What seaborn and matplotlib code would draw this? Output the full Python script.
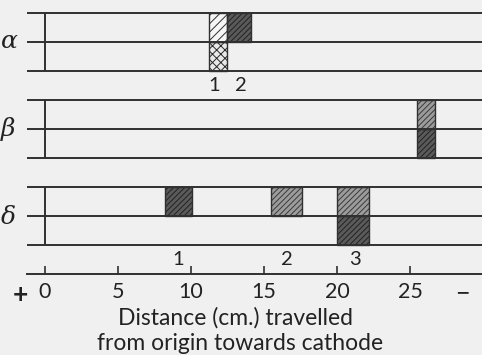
import matplotlib
matplotlib.use("Agg")
import matplotlib.pyplot as plt
import seaborn as sns

# --- data (distance in cm) ---
genes = ["α", "β", "δ"]

alpha_start = [11.2, 12.5, 11.2]
alpha_end = [12.5, 14.1, 12.5]
alpha_lane = ["upper", "upper", "lower"]
alpha_fill = ["light", "dark", "dotted"]

beta_start = [25.5, 25.5]
beta_end = [26.7, 26.7]
beta_lane = ["upper", "lower"]
beta_fill = ["medium", "dark"]

delta_start = [8.2, 15.5, 20.0, 20.0]
delta_end = [10.1, 17.6, 22.2, 22.2]
delta_lane = ["upper", "upper", "upper", "lower"]
delta_fill = ["dark", "medium", "medium", "dark"]

alpha_labels = ["1", "2"]
alpha_label_x = [11.6, 13.4]
delta_labels = ["1", "2", "3"]
delta_label_x = [9.1, 16.6, 21.2]

ticks = [0, 5, 10, 15, 20, 25]

bands = [
    (alpha_start, alpha_end, alpha_lane, alpha_fill),
    (beta_start, beta_end, beta_lane, beta_fill),
    (delta_start, delta_end, delta_lane, delta_fill),
]
band_labels = [(alpha_labels, alpha_label_x), None, (delta_labels, delta_label_x)]

# fill styles: (face, hatch, hatch colour)
styles = {
    "light": ("#f6f6f6", "////", "#2e2e2e"),
    "medium": ("#9c9c9c", "//////", "#3a3a3a"),
    "dark": ("#5a5a5a", "//////", "#222222"),
    "dotted": ("#e8e8e8", "xxxx", "#2a2a2a"),
}

sns.set_theme(style="white")
plt.rcParams["font.family"] = ["Lato", "DejaVu Sans"]
plt.rcParams["hatch.linewidth"] = 0.7

bg = "#f0f0f0"
ink = "#303030"
txt = "#222222"

fig = plt.figure(figsize=(4.82, 3.55), dpi=100, facecolor=bg)
ax = fig.add_axes([27 / 482, 81 / 355, 455 / 482, 274 / 355], facecolor=bg)
ax.set_xlim(-1.23, 29.93)
ax.set_ylim(8, -1.45)

for k, gene in enumerate(genes):
    c = 3 * k
    ax.hlines([c - 1, c, c + 1], -1.23, 29.93, color=ink, lw=1.4, zorder=3)
    ax.vlines(0, c - 1, c + 1, color=ink, lw=1.4, zorder=3)
    fig.text(1 / 482, 1 - (42 + 87.5 * k) / 355, gene, fontsize=18, style="italic",
             family="DejaVu Serif", color=txt, va="center", ha="left")

    starts, ends, lanes, fills = bands[k]
    for s, e, lane, f in zip(starts, ends, lanes, fills):
        face, hatch, hc = styles[f]
        bottom = c - 1 if lane == "upper" else c
        ax.bar(s, 1, width=e - s, bottom=bottom, align="edge", color=face,
               edgecolor=hc, hatch=hatch, lw=0, zorder=2)
        ax.bar(s, 1, width=e - s, bottom=bottom, align="edge", fill=False,
               edgecolor=ink, lw=1.0, zorder=4)

    if band_labels[k] is not None:
        labs, xs = band_labels[k]
        for lab, x in zip(labs, xs):
            ax.text(x, c + 1.5, lab, ha="center", va="center", fontsize=14.5, color=txt)

for side in ["top", "left", "right"]:
    ax.spines[side].set_visible(False)
ax.spines["bottom"].set_color(ink)
ax.spines["bottom"].set_linewidth(1.4)
ax.set_yticks([])
ax.set_xticks(ticks)
ax.set_xticklabels([str(t) for t in ticks])
ax.tick_params(axis="x", direction="in", length=6, width=1.2, color=ink,
               labelsize=15.5, labelcolor=txt, pad=6, bottom=True)

fig.text(20 / 482, 1 - 295 / 355, "+", fontsize=19, color=txt, ha="center",
         va="center", fontweight="bold")
fig.text(462 / 482, 1 - 293 / 355, "−", fontsize=18, color=txt, ha="center", va="center")
fig.text(236 / 482, 1 - 318 / 355, "Distance (cm.) travelled", fontsize=16.5,
         color=txt, ha="center", va="center")
fig.text(240 / 482, 1 - 343 / 355, "from origin towards cathode", fontsize=16.5,
         color=txt, ha="center", va="center")

fig.savefig("out.png", dpi=100, facecolor=bg)
